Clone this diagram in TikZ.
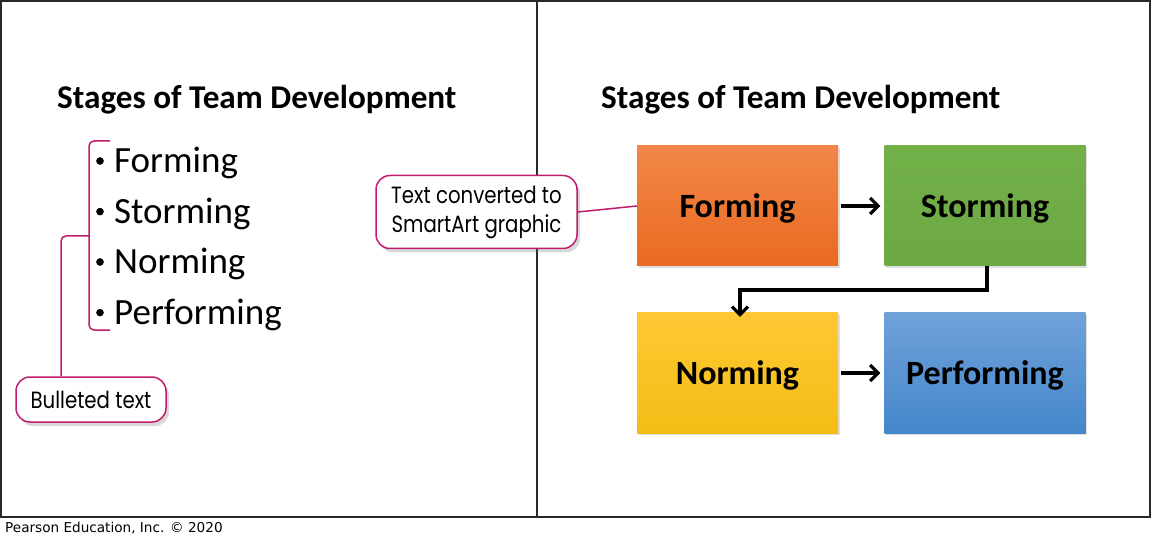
\documentclass[tikz,border=0pt]{standalone}
\usepackage{fontspec}
\setmainfont{Carlito}
\newfontfamily\calloutfont[FakeStretch=0.84]{Poppins}
\newfontfamily\footfont{DejaVu Sans}
\usetikzlibrary{arrows.meta,shadows}
\definecolor{pinkline}{RGB}{192,28,110}
\definecolor{frameline}{RGB}{40,40,40}
\definecolor{orangeT}{RGB}{242,135,72}
\definecolor{orangeB}{RGB}{233,106,32}
\definecolor{greenT}{RGB}{114,176,72}
\definecolor{greenB}{RGB}{108,168,68}
\definecolor{yellowT}{RGB}{255,200,52}
\definecolor{yellowB}{RGB}{242,190,22}
\definecolor{blueT}{RGB}{112,162,218}
\definecolor{blueB}{RGB}{68,134,202}
\begin{document}
\begin{tikzpicture}[x=1pt,y=-1pt,
  titletext/.style={font=\fontsize{33.2}{38}\selectfont\bfseries, inner sep=0pt, anchor=west},
  bullettext/.style={font=\fontsize{37}{42}\selectfont, inner sep=0pt, anchor=base west},
  bulletdot/.style={circle, fill=black, draw=black, line width=0.5pt, inner sep=0pt, minimum size=7pt},
  callout/.style={draw=pinkline, line width=1.5pt, fill=white, rounded corners=14pt,
     inner sep=0pt, align=center, font=\calloutfont\fontsize{23.5}{28}\selectfont,
     drop shadow={shadow xshift=3pt, shadow yshift=-4pt, opacity=0.25, fill=black!60}},
  pinkconn/.style={draw=pinkline, line width=1.5pt},
  stagebox/.style={minimum width=201pt, minimum height=120pt, inner sep=0pt,
     font=\fontsize{34}{40}\selectfont\bfseries, text height=30pt, text depth=7pt,
     drop shadow={shadow xshift=1.5pt, shadow yshift=-2pt, opacity=0.25}},
  flow/.style={draw=black, line width=3.2pt, -{Straight Barb[length=8pt,width=16pt]}},
]
\useasboundingbox (0,0) rectangle (1152,540);
\fill[white] (0,0) rectangle (1152,540);
% frame
\draw[frameline, line width=1.6pt] (1,1) rectangle (1150,517);
\draw[frameline, line width=1.6pt] (537,1) -- (537,517);
\node[font=\footfont\fontsize{13.6}{15}\selectfont, anchor=west, inner sep=0pt] (foot) at (5,528) {Pearson Education, Inc. \textcopyright{} 2020};

% left side
\node[titletext] (ltitle) at (57,100) {Stages of Team Development};
\node[bulletdot] (d1) at (100,161) {};
\node[bulletdot] (d2) at (100,211.6) {};
\node[bulletdot] (d3) at (100,262) {};
\node[bulletdot] (d4) at (100,312.6) {};
\node[bullettext] (b1) at (114,172.5) {Forming};
\node[bullettext] (b2) at (114,223.1) {Storming};
\node[bullettext] (b3) at (114,273.5) {Norming};
\node[bullettext] (b4) at (114,324.1) {Performing};

\node[callout, minimum width=150pt, minimum height=45pt] (c1) at (91,399.5) {Bulleted text};
\coordinate (brtop) at (110,141);
\coordinate (brbot) at (110,330);
\coordinate (brmid) at (89,236);
\draw[pinkconn, rounded corners=5pt] (brtop) -- (89,141) -- (89,330) -- (brbot);
\draw[pinkconn, rounded corners=5pt] (brmid) -- (61,236) -- (c1.north -| 61,0);

% right side
\node[titletext] (rtitle) at (601,100) {Stages of Team Development};
\node[stagebox, top color=orangeT, bottom color=orangeB] (form) at (737.5,206) {Forming};
\node[stagebox, top color=greenT, bottom color=greenB] (storm) at (985,206) {Storming};
\node[stagebox, top color=yellowT, bottom color=yellowB] (norm) at (737.5,373) {Norming};
\node[stagebox, top color=blueT, bottom color=blueB] (perf) at (985,373) {Performing};

\node[callout, minimum width=201pt, minimum height=73pt, font=\calloutfont\fontsize{23.5}{29}\selectfont] (c2) at (476.5,212) {Text converted to\\SmartArt graphic};
\draw[pinkconn] (c2.east) -- (form.west);

\draw[flow] ([xshift=3pt]form.east) -- ([xshift=-4pt]storm.west);
\draw[flow] ([xshift=3pt]norm.east) -- ([xshift=-4pt]perf.west);
\coordinate (turn) at (987,290);
\draw[flow] (storm.south -| turn) -- (turn) -- (740,290) -- ([yshift=-4pt]norm.north -| 740,0);
\end{tikzpicture}
\end{document}
